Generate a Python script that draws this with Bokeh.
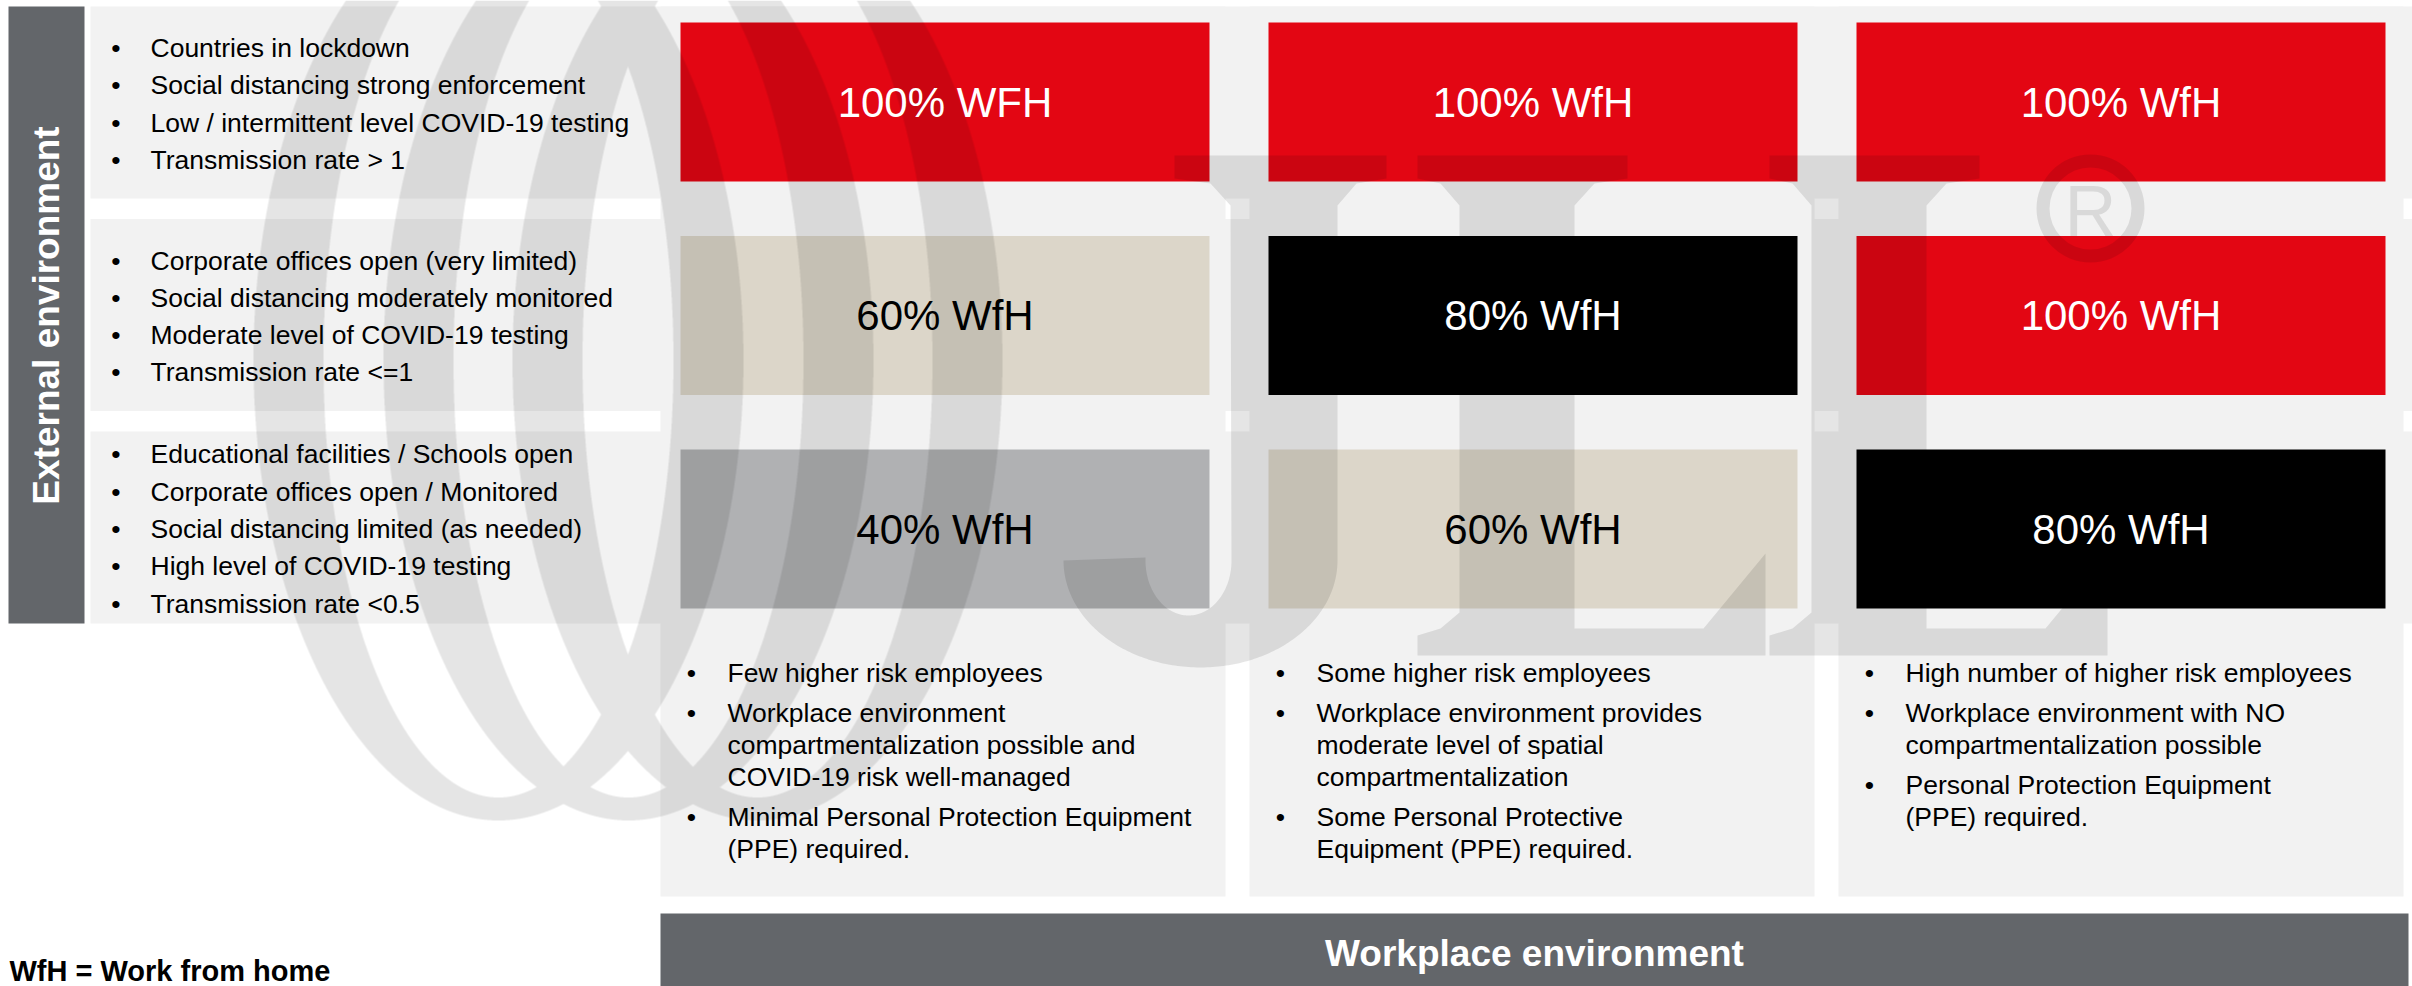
import numpy as np
from bokeh.plotting import figure
from bokeh.models import Range1d, ColumnDataSource
from bokeh.core.properties import value
from bokeh.embed import file_html
from bokeh.resources import INLINE

# ---------------- data ----------------
external_scenarios = [
    ["Countries in lockdown",
     "Social distancing strong enforcement",
     "Low / intermittent level COVID-19 testing",
     "Transmission rate > 1"],
    ["Corporate offices open (very limited)",
     "Social distancing moderately monitored",
     "Moderate level of COVID-19 testing",
     "Transmission rate <=1"],
    ["Educational facilities / Schools open",
     "Corporate offices open / Monitored",
     "Social distancing limited (as needed)",
     "High level of COVID-19 testing",
     "Transmission rate <0.5"],
]
workplace_scenarios = [
    [["Few higher risk employees"],
     ["Workplace environment", "compartmentalization possible and", "COVID-19 risk well-managed"],
     ["Minimal Personal Protection Equipment", "(PPE) required."]],
    [["Some higher risk employees"],
     ["Workplace environment provides", "moderate level of spatial", "compartmentalization"],
     ["Some Personal Protective", "Equipment (PPE) required."]],
    [["High number of higher risk employees"],
     ["Workplace environment with NO", "compartmentalization possible"],
     ["Personal Protection Equipment", "(PPE) required."]],
]
wfh_values = [[100, 100, 100],
              [60, 80, 100],
              [40, 60, 80]]
wfh_labels = [["100% WFH", "100% WfH", "100% WfH"],
              ["60% WfH", "80% WfH", "100% WfH"],
              ["40% WfH", "60% WfH", "80% WfH"]]
row_title = "External environment"
col_title = "Workplace environment"
footnote = "WfH = Work from home"

# ---------------- styles ----------------
FILL = {100: "#E30613", 80: "#000000", 60: "#DCD6C9", 40: "#B0B1B3"}
TXT = {100: "#FFFFFF", 80: "#FFFFFF", 60: "#000000", 40: "#000000"}
PANEL = "#F2F2F2"
DARK = "#63666A"
FONT = value("Liberation Sans")

# layout (page pixel coordinates)
W, H = 2412, 986
ROW_TOP0, ROW_PITCH, ROW_H = 6, 212.5, 192
COL_LEFT0, COL_PITCH, COL_W = 660, 589, 565
BOX_LEFT0, BOX_PITCH_X, BOX_W = 680, 588, 529
BOX_TOP0, BOX_PITCH_Y, BOX_H = 22, 213.5, 159
PANEL_BOTTOM = 896

p = figure(width=W, height=H, x_range=Range1d(0, W), y_range=Range1d(H, 0),
           output_backend="svg", toolbar_location=None, min_border=0)
p.axis.visible = False
p.grid.visible = False
p.outline_line_color = None
p.background_fill_color = "white"
p.border_fill_color = "white"

nrow, ncol = len(wfh_values), len(wfh_values[0])

# background panels: rows (left text) and columns (bottom text)
row_tops = [ROW_TOP0 + i * ROW_PITCH for i in range(nrow)]
p.quad(left=[90] * nrow, right=[W] * nrow, top=row_tops,
       bottom=[t + ROW_H for t in row_tops], fill_color=PANEL, line_color=None)
col_lefts = [COL_LEFT0 + j * COL_PITCH for j in range(ncol)]
p.quad(left=col_lefts, right=[l + COL_W for l in col_lefts], top=[ROW_TOP0] * ncol,
       bottom=[PANEL_BOTTOM] * ncol, fill_color=PANEL, line_color=None)

# dark title bars
p.quad(left=[8], right=[84], top=[ROW_TOP0], bottom=[row_tops[-1] + ROW_H],
       fill_color=DARK, line_color=None)
p.quad(left=[660], right=[2408], top=[913], bottom=[H + 4], fill_color=DARK, line_color=None)

# matrix boxes
bx, by, bl, br, bt, bb, bc, tc, lab = [], [], [], [], [], [], [], [], []
for i in range(nrow):
    for j in range(ncol):
        v = wfh_values[i][j]
        l = BOX_LEFT0 + j * BOX_PITCH_X
        t = BOX_TOP0 + i * BOX_PITCH_Y
        bl.append(l); br.append(l + BOX_W); bt.append(t); bb.append(t + BOX_H)
        bx.append(l + BOX_W / 2); by.append(t + BOX_H / 2)
        bc.append(FILL[v]); tc.append(TXT[v]); lab.append(wfh_labels[i][j])
boxes = ColumnDataSource(dict(l=bl, r=br, t=bt, b=bb, x=bx, y=by, fill=bc, tcol=tc, lab=lab))
p.quad(left="l", right="r", top="t", bottom="b", fill_color="fill", line_color=None, source=boxes)

# ---------------- watermark (JLL logo, translucent) ----------------
WM_ALPHA = 0.1
WM = dict(fill_color="black", fill_alpha=WM_ALPHA, line_color=None)

# three interlaced elliptical bands, rasterised as one flat translucent layer
IX0, IY0, IW, IH, SS = 240, 0, 780, 830, 3
gx = IX0 + (np.arange(IW * SS) + 0.5) / SS
gy = IY0 + (np.arange(IH * SS) + 0.5) / SS
GX, GY = np.meshgrid(gx, gy)
mask = np.zeros(GX.shape, dtype=bool)
for cx in (498, 628, 757):
    outer = ((GX - cx) / 245.0) ** 2 + ((GY - 360) / 460.0) ** 2 <= 1
    inner = ((GX - cx) / 175.0) ** 2 + ((GY - 360) / 437.0) ** 2 <= 1
    mask |= outer & ~inner
cov = mask.reshape(IH, SS, IW, SS).mean(axis=(1, 3))
rgba = np.zeros((IH, IW, 4), dtype=np.uint8)
rgba[..., 3] = np.round(cov * WM_ALPHA * 255).astype(np.uint8)
img = rgba.view(np.uint32).reshape(IH, IW)
p.image_rgba(image=[img], x=IX0, y=IY0, dw=IW, dh=IH)


def arc(cx, cy, rx, ry, t0, t1, n=160):
    t = np.linspace(t0, t1, n)
    return list(cx + rx * np.cos(t)), list(cy + ry * np.sin(t))


# J
hx_o, hy_o = arc(1200, 560, 137, 107, 0, np.pi)
hx_i, hy_i = arc(1188, 560, 43, 55, np.pi, 0)
jx = [1174, 1386, 1386, 1356, 1337] + hx_o + [1145] + hx_i + [1230, 1210, 1174]
jy = [155, 155, 178, 183, 205] + hy_o + [557] + hy_i + [205, 183, 178]


def L_shape(dx, foot_r):
    xs = [1417, 1627, 1627, 1594, 1574, 1574, foot_r - 62, foot_r, foot_r, 1417, 1417, 1440, 1459, 1459, 1440, 1417]
    ys = [155, 155, 178, 183, 205, 628, 628, 553, 655, 655, 635, 628, 612, 205, 183, 178]
    return [x + dx for x in xs], ys


l1x, l1y = L_shape(0, 1765)
l2x, l2y = L_shape(352, 1755)
p.patches(xs=[jx, l1x, l2x], ys=[jy, l1y, l2y], **WM)
p.annulus(x=[2090], y=[208], inner_radius=41, outer_radius=54, **WM)
p.text(x=[2090], y=[210], text=["R"], text_font=FONT, text_font_size=value("72px"),
       text_align="center", text_baseline="middle", text_color="black", text_alpha=WM_ALPHA)

# ---------------- texts ----------------
p.text(x="x", y="y", text="lab", text_color="tcol", source=boxes, text_font=FONT,
       text_font_size=value("42px"), text_align="center", text_baseline="middle")

# left bullets
LINE = 37.3
ex, ey, et, bxx, byy = [], [], [], [], []
for i, lines in enumerate(external_scenarios):
    center = row_tops[i] + ROW_H / 2 + 1.5
    y0 = center - (len(lines) - 1) / 2 * LINE
    for k, s in enumerate(lines):
        ex.append(150); ey.append(y0 + k * LINE); et.append(s)
        bxx.append(115.4); byy.append(y0 + k * LINE)
p.text(x=ex, y=ey, text=et, text_font=FONT, text_font_size=value("26.5px"),
       text_color="black", text_align="left", text_baseline="middle")
p.text(x=bxx, y=byy, text=["\u2022"] * len(bxx), text_font=FONT, text_font_size=value("26.5px"),
       text_color="black", text_align="center", text_baseline="middle")

# bottom bullets
wx, wy, wt, wbx, wby = [], [], [], [], []
for j, bullets in enumerate(workplace_scenarios):
    y = 672
    for b, lines in enumerate(bullets):
        if b > 0:
            y += 40
        wbx.append(col_lefts[j] + 31); wby.append(y)
        for k, s in enumerate(lines):
            if k > 0:
                y += 32
            wx.append(col_lefts[j] + 67); wy.append(y); wt.append(s)
p.text(x=wx, y=wy, text=wt, text_font=FONT, text_font_size=value("26.5px"),
       text_color="black", text_align="left", text_baseline="middle")
p.text(x=wbx, y=wby, text=["\u2022"] * len(wbx), text_font=FONT, text_font_size=value("26.5px"),
       text_color="black", text_align="center", text_baseline="middle")

# titles
p.text(x=[46], y=[315], text=[row_title], angle=np.pi / 2, text_font=FONT,
       text_font_style="bold", text_font_size=value("37px"), text_color="white",
       text_align="center", text_baseline="middle")
p.text(x=[1534], y=[953], text=[col_title], text_font=FONT, text_font_style="bold",
       text_font_size=value("37px"), text_color="white", text_align="center", text_baseline="middle")
p.text(x=[9], y=[970], text=[footnote], text_font=FONT, text_font_style="bold",
       text_font_size=value("29px"), text_color="black", text_align="left", text_baseline="middle")

open("out.html", "w").write(file_html(p, INLINE))
